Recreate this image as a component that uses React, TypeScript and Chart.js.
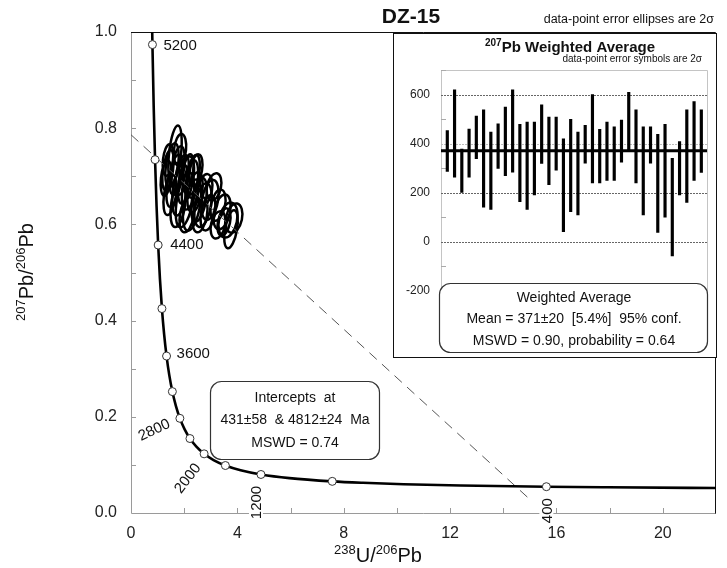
import React, { useEffect, useRef } from 'react';
import { Chart, registerables } from 'chart.js';

Chart.register(...registerables);

const FONT = "Arial, 'Liberation Sans', Helvetica, sans-serif";

// ---- Tera-Wasserburg concordia (precomputed values, age in Ma) ----
const concordiaAges = [5240, 5200, 5000, 4800, 4600, 4400, 4200, 4000, 3800, 3600, 3400, 3200, 3000, 2800, 2600, 2400, 2200, 2000, 1800, 1600, 1400, 1200, 1000, 800, 700, 600, 500, 400, 350, 300, 286];
const concordiaX = [0.7972, 0.8062, 0.8533, 0.9045, 0.9604, 1.0215, 1.0888, 1.163, 1.2453, 1.337, 1.4398, 1.5557, 1.6875, 1.8384, 2.0129, 2.217, 2.4586, 2.749, 3.1046, 3.5497, 4.1227, 4.8875, 5.9593, 7.5684, 8.7182, 10.2518, 12.3993, 15.6212, 17.9228, 20.9918, 22.044];
const concordiaY = [1.0019, 0.9738, 0.8453, 0.7346, 0.6393, 0.5571, 0.4862, 0.425, 0.3721, 0.3263, 0.2867, 0.2524, 0.2227, 0.1968, 0.1744, 0.1548, 0.1378, 0.123, 0.11, 0.0987, 0.0888, 0.0801, 0.0725, 0.0658, 0.0628, 0.0599, 0.0572, 0.0547, 0.0535, 0.0523, 0.052];

const markerAges = [5200, 4800, 4400, 4000, 3600, 3200, 2800, 2400, 2000, 1600, 1200, 800, 400];
const markerX = [0.8062, 0.9045, 1.0215, 1.163, 1.337, 1.5557, 1.8384, 2.217, 2.749, 3.5497, 4.8875, 7.5684, 15.6212];
const markerY = [0.9738, 0.7346, 0.5571, 0.425, 0.3263, 0.2524, 0.1968, 0.1548, 0.123, 0.0987, 0.0801, 0.0658, 0.0547];
const labelledAges = [5200, 4400, 3600, 2800, 2000, 1200, 400];

// ---- discordia (dashed) ----
const discordiaX = [0, 15.05];
const discordiaY = [0.7864, 0.0258];

// ---- data-point error ellipses (2 sigma): centre, semi-axes in data units, tilt in degrees ----
const ellipseX = [1.655, 1.391, 1.542, 1.768, 1.918, 2.068, 2.219, 1.843, 1.58, 1.316, 1.467, 2.031, 2.294, 2.407, 2.557, 2.144, 1.768, 2.332, 2.708, 2.971, 3.121, 2.896, 3.272, 3.422, 3.648, 3.874, 3.761, 3.498, 2.595, 2.106, 1.391, 1.843, 2.444, 2.783, 3.272, 1.692];
const ellipseY = [0.746, 0.713, 0.723, 0.717, 0.703, 0.692, 0.682, 0.672, 0.682, 0.696, 0.661, 0.651, 0.64, 0.667, 0.651, 0.709, 0.64, 0.703, 0.64, 0.651, 0.678, 0.624, 0.64, 0.626, 0.609, 0.613, 0.59, 0.605, 0.62, 0.62, 0.734, 0.755, 0.713, 0.672, 0.599, 0.703];
const ellipseSx = [0.226, 0.188, 0.226, 0.226, 0.226, 0.263, 0.263, 0.263, 0.226, 0.188, 0.226, 0.301, 0.301, 0.263, 0.263, 0.188, 0.263, 0.226, 0.301, 0.301, 0.263, 0.263, 0.263, 0.301, 0.338, 0.301, 0.226, 0.226, 0.263, 0.263, 0.188, 0.226, 0.226, 0.263, 0.263, 0.226];
const ellipseSy = [0.06, 0.042, 0.046, 0.046, 0.042, 0.05, 0.052, 0.054, 0.046, 0.037, 0.042, 0.058, 0.054, 0.042, 0.046, 0.037, 0.046, 0.042, 0.046, 0.042, 0.029, 0.037, 0.033, 0.037, 0.037, 0.031, 0.04, 0.029, 0.037, 0.037, 0.033, 0.033, 0.033, 0.033, 0.029, 0.042];
const ellipseTilt = [6, 8, 8, 8, 10, 10, 10, 8, 8, 6, 8, 10, 10, 10, 10, 8, 8, 10, 10, 10, 12, 10, 12, 12, 12, 12, 10, 12, 10, 10, 6, 6, 10, 10, 12, 8];

const mainXTicks = [0, 4, 8, 12, 16, 20];
const mainYTicks = [0, 0.2, 0.4, 0.6, 0.8, 1.0];
const mainXMinor = [2, 4, 6, 8, 10, 12, 14, 16, 18, 20];
const mainYMinor = [0.1, 0.2, 0.3, 0.4, 0.5, 0.6, 0.7, 0.8, 0.9];

// ---- 207Pb weighted average inset ----
const insetYTicks = [-200, 0, 200, 400, 600];
const insetYMinor = [700, 500, 300, 100, -100];
const barLow = [286, 263, 201, 263, 338, 141, 132, 299, 269, 283, 163, 132, 191, 319, 232, 292, 41, 122, 109, 320, 240, 240, 250, 250, 324, 370, 240, 109, 320, 38, 100, -58, 191, 160, 250, 282];
const barHigh = [453, 619, 378, 459, 512, 538, 447, 481, 549, 619, 478, 488, 488, 558, 508, 508, 419, 499, 447, 474, 600, 458, 488, 468, 496, 609, 538, 468, 468, 438, 478, 340, 408, 538, 571, 538];
const weightedMean = 371;

const interceptLines = ['Intercepts  at', '431±58  & 4812±24  Ma', 'MSWD = 0.74'];
const waLines = ['Weighted Average', 'Mean = 371±20  [5.4%]  95% conf.', 'MSWD = 0.90, probability = 0.64'];

type Part = { t: string; sup?: boolean };

function drawRich(ctx: CanvasRenderingContext2D, parts: Part[], x: number, y: number, size: number, supSize: number, rise: number, bold: boolean, align: 'left' | 'center' | 'right') {
  const b = bold ? 'bold ' : '';
  const widths = parts.map((p) => {
    ctx.font = `${b}${p.sup ? supSize : size}px ${FONT}`;
    return ctx.measureText(p.t).width;
  });
  const total = widths.reduce((a, c) => a + c, 0);
  let cx = align === 'center' ? x - total / 2 : align === 'right' ? x - total : x;
  ctx.textAlign = 'left';
  ctx.textBaseline = 'alphabetic';
  parts.forEach((p, i) => {
    ctx.font = `${b}${p.sup ? supSize : size}px ${FONT}`;
    ctx.fillText(p.t, cx, p.sup ? y - rise : y);
    cx += widths[i];
  });
}

function roundRect(ctx: CanvasRenderingContext2D, x: number, y: number, w: number, h: number, r: number) {
  ctx.beginPath();
  ctx.moveTo(x + r, y);
  ctx.lineTo(x + w - r, y);
  ctx.arcTo(x + w, y, x + w, y + r, r);
  ctx.lineTo(x + w, y + h - r);
  ctx.arcTo(x + w, y + h, x + w - r, y + h, r);
  ctx.lineTo(x + r, y + h);
  ctx.arcTo(x, y + h, x, y + h - r, r);
  ctx.lineTo(x, y + r);
  ctx.arcTo(x, y, x + r, y, r);
  ctx.closePath();
}

const ageLabelLayout: Record<number, { dx: number; dy: number; rot: number; align: 'left' | 'center' }> = {
  5200: { dx: 11, dy: 0, rot: 0, align: 'left' },
  4400: { dx: 12, dy: -1, rot: 0, align: 'left' },
  3600: { dx: 10, dy: -3, rot: 0, align: 'left' },
  2800: { dx: -26, dy: 11, rot: -25, align: 'center' },
  2000: { dx: -17, dy: 24, rot: -52, align: 'center' },
  1200: { dx: -5, dy: 28, rot: -90, align: 'center' },
  400: { dx: 0, dy: 24, rot: -90, align: 'center' },
};

export default function App() {
  const mainRef = useRef<HTMLCanvasElement>(null);
  const insetRef = useRef<HTMLCanvasElement>(null);

  useEffect(() => {
    const mainPlugin = {
      id: 'mainDecor',
      beforeDatasetsDraw(chart: any) {
        const { ctx, chartArea: a, scales } = chart;
        const xs = scales.x, ys = scales.y;
        ctx.save();
        ctx.strokeStyle = '#9a9a9a';
        ctx.lineWidth = 1;
        ctx.beginPath();
        ctx.moveTo(a.left + 0.5, a.top);
        ctx.lineTo(a.left + 0.5, a.bottom + 0.5);
        ctx.lineTo(a.right, a.bottom + 0.5);
        ctx.stroke();
        ctx.beginPath();
        mainXMinor.forEach((v) => {
          const px = Math.round(xs.getPixelForValue(v)) + 0.5;
          ctx.moveTo(px, a.bottom);
          ctx.lineTo(px, a.bottom - 5);
        });
        mainYMinor.forEach((v) => {
          const py = Math.round(ys.getPixelForValue(v)) + 0.5;
          ctx.moveTo(a.left, py);
          ctx.lineTo(a.left + 5, py);
        });
        ctx.stroke();
        ctx.strokeStyle = '#111';
        ctx.beginPath();
        ctx.moveTo(a.left, a.top + 0.5);
        ctx.lineTo(a.right - 0.5, a.top + 0.5);
        ctx.lineTo(a.right - 0.5, a.bottom + 0.5);
        ctx.stroke();
        const kx = Math.abs(xs.getPixelForValue(1) - xs.getPixelForValue(0));
        const ky = Math.abs(ys.getPixelForValue(1) - ys.getPixelForValue(0));
        ctx.strokeStyle = '#000';
        ctx.lineWidth = 2.5;
        ellipseX.forEach((ex, i) => {
          ctx.beginPath();
          ctx.ellipse(xs.getPixelForValue(ex), ys.getPixelForValue(ellipseY[i]), ellipseSx[i] * kx, ellipseSy[i] * ky, (ellipseTilt[i] * Math.PI) / 180, 0, Math.PI * 2);
          ctx.stroke();
        });
        ctx.restore();
      },
      afterDatasetsDraw(chart: any) {
        const { ctx, scales } = chart;
        const xs = scales.x, ys = scales.y;
        ctx.save();
        ctx.font = `15px ${FONT}`;
        labelledAges.forEach((age) => {
          const idx = markerAges.indexOf(age);
          const lay = ageLabelLayout[age];
          const px = xs.getPixelForValue(markerX[idx]) + lay.dx;
          const py = ys.getPixelForValue(markerY[idx]) + lay.dy;
          const txt = String(age);
          const w = ctx.measureText(txt).width;
          ctx.save();
          ctx.translate(px, py);
          ctx.rotate((lay.rot * Math.PI) / 180);
          const x0 = lay.align === 'left' ? 0 : -w / 2;
          ctx.fillStyle = '#fff';
          ctx.fillRect(x0 - 2, -7, w + 4, 14);
          ctx.fillStyle = '#111';
          ctx.textAlign = 'left';
          ctx.textBaseline = 'middle';
          ctx.fillText(txt, x0, 1);
          ctx.restore();
        });
        ctx.lineWidth = 1.2;
        ctx.strokeStyle = '#333';
        ctx.fillStyle = '#fff';
        roundRect(ctx, 210.5, 381.5, 169, 78, 11);
        ctx.fill();
        ctx.stroke();
        ctx.fillStyle = '#111';
        ctx.font = `14px ${FONT}`;
        ctx.textAlign = 'center';
        ctx.textBaseline = 'middle';
        interceptLines.forEach((l, i) => ctx.fillText(l, 295, 398 + i * 22.5));
        ctx.font = `bold 21px ${FONT}`;
        ctx.fillText('DZ-15', 411, 17);
        ctx.font = `12.5px ${FONT}`;
        ctx.textAlign = 'right';
        ctx.fillText('data-point error ellipses are 2σ', 714, 20);
        drawRich(ctx, [{ t: '238', sup: true }, { t: 'U/' }, { t: '206', sup: true }, { t: 'Pb' }], 378, 562, 20, 13, 8, false, 'center');
        ctx.save();
        ctx.translate(33, 272);
        ctx.rotate(-Math.PI / 2);
        drawRich(ctx, [{ t: '207', sup: true }, { t: 'Pb/' }, { t: '206', sup: true }, { t: 'Pb' }], 0, 0, 20, 13, 8, false, 'center');
        ctx.restore();
        ctx.restore();
      },
    };

    const main = new Chart(mainRef.current!, {
      type: 'line',
      data: {
        datasets: [
          {
            data: markerX.map((x, i) => ({ x, y: markerY[i] })),
            showLine: false,
            pointRadius: 4,
            pointBackgroundColor: '#fff',
            pointBorderColor: '#333',
            pointBorderWidth: 1,
          },
          {
            data: concordiaX.map((x, i) => ({ x, y: concordiaY[i] })),
            showLine: true,
            borderColor: '#000',
            borderWidth: 2.6,
            pointRadius: 0,
            cubicInterpolationMode: 'monotone',
          },
          {
            data: discordiaX.map((x, i) => ({ x, y: discordiaY[i] })),
            showLine: true,
            borderColor: '#555',
            borderWidth: 1,
            borderDash: [10, 7],
            pointRadius: 0,
          },
        ],
      } as any,
      options: {
        animation: false,
        responsive: false,
        events: [],
        layout: { padding: { top: 32, right: 11, left: 0, bottom: 0 } },
        plugins: { legend: { display: false }, tooltip: { enabled: false }, title: { display: false } },
        scales: {
          x: {
            type: 'linear',
            min: 0,
            max: 22,
            afterBuildTicks: (s: any) => { s.ticks = mainXTicks.map((v) => ({ value: v })); },
            afterFit: (s: any) => { s.height = 55; },
            grid: { display: false, drawTicks: false },
            border: { display: false },
            ticks: { font: { family: FONT, size: 16 }, color: '#222', padding: 11, maxRotation: 0, callback: (v: any) => String(v) },
          },
          y: {
            type: 'linear',
            min: 0,
            max: 1,
            afterBuildTicks: (s: any) => { s.ticks = mainYTicks.map((v) => ({ value: v })); },
            afterFit: (s: any) => { s.width = 131; },
            grid: { display: false, drawTicks: false },
            border: { display: false },
            ticks: { font: { family: FONT, size: 16 }, color: '#222', padding: 14, callback: (v: any) => Number(v).toFixed(1) },
          },
        },
      } as any,
      plugins: [mainPlugin],
    });

    const insetPlugin = {
      id: 'insetDecor',
      beforeDraw(chart: any) {
        const { ctx, width, height } = chart;
        ctx.save();
        ctx.fillStyle = '#fff';
        ctx.fillRect(0, 0, width, height);
        ctx.restore();
      },
      beforeDatasetsDraw(chart: any) {
        const { ctx, chartArea: a, scales } = chart;
        const ys = scales.y;
        ctx.save();
        ctx.lineWidth = 1;
        ctx.strokeStyle = '#c4c4c4';
        ctx.beginPath();
        ctx.moveTo(a.left + 0.5, a.bottom);
        ctx.lineTo(a.left + 0.5, a.top + 0.5);
        ctx.lineTo(a.right - 0.5, a.top + 0.5);
        ctx.lineTo(a.right - 0.5, a.bottom);
        ctx.stroke();
        insetYTicks.forEach((v) => {
          const py = Math.round(ys.getPixelForValue(v)) + 0.5;
          ctx.strokeStyle = v === 400 ? '#bdbdbd' : '#666';
          ctx.setLineDash([2, 1]);
          ctx.beginPath();
          ctx.moveTo(a.left, py);
          ctx.lineTo(a.right, py);
          ctx.stroke();
        });
        ctx.setLineDash([]);
        ctx.strokeStyle = '#aaa';
        ctx.beginPath();
        insetYMinor.forEach((v) => {
          const py = Math.round(ys.getPixelForValue(v)) + 0.5;
          ctx.moveTo(a.left, py);
          ctx.lineTo(a.left + 5, py);
        });
        ctx.stroke();
        ctx.restore();
      },
      afterDatasetsDraw(chart: any) {
        const { ctx, chartArea: a, scales, width, height } = chart;
        const ys = scales.y;
        ctx.save();
        const my = ys.getPixelForValue(weightedMean);
        ctx.strokeStyle = '#000';
        ctx.lineWidth = 3;
        ctx.beginPath();
        ctx.moveTo(a.left, my);
        ctx.lineTo(a.right - 1, my);
        ctx.stroke();
        ctx.lineWidth = 1.2;
        ctx.strokeStyle = '#333';
        ctx.fillStyle = '#fff';
        roundRect(ctx, 46.5, 250.5, 268, 69, 11);
        ctx.fill();
        ctx.stroke();
        ctx.fillStyle = '#111';
        ctx.font = `14px ${FONT}`;
        ctx.textAlign = 'center';
        ctx.textBaseline = 'middle';
        waLines.forEach((l, i) => ctx.fillText(l, 181, 265 + i * 21.5));
        drawRich(ctx, [{ t: '207', sup: true }, { t: 'Pb Weighted Average' }], 177, 19, 15, 10, 6, true, 'center');
        ctx.font = `10px ${FONT}`;
        ctx.textAlign = 'right';
        ctx.textBaseline = 'alphabetic';
        ctx.fillText('data-point error symbols are 2σ', 309, 29);
        ctx.strokeStyle = '#111';
        ctx.lineWidth = 1;
        ctx.strokeRect(0.5, 0.5, width - 1, height - 1);
        ctx.restore();
      },
    };

    const inset = new Chart(insetRef.current!, {
      type: 'bar',
      data: {
        datasets: [
          {
            data: barLow.map((lo, i) => ({ x: i + 1, y: [lo, barHigh[i]] })),
            backgroundColor: '#000',
            borderWidth: 0,
            barThickness: 2.5,
          },
        ],
      } as any,
      options: {
        animation: false,
        responsive: false,
        events: [],
        layout: { padding: { top: 37, right: 9, left: 0, bottom: 2 } },
        plugins: { legend: { display: false }, tooltip: { enabled: false }, title: { display: false } },
        scales: {
          x: { type: 'linear', min: 0.132, max: 36.92, display: false, offset: false },
          y: {
            type: 'linear',
            min: -400,
            max: 700,
            afterBuildTicks: (s: any) => { s.ticks = insetYTicks.map((v) => ({ value: v })); },
            afterFit: (s: any) => { s.width = 48; },
            grid: { display: false, drawTicks: false },
            border: { display: false },
            ticks: { font: { family: FONT, size: 12 }, color: '#222', padding: 11, callback: (v: any) => String(v) },
          },
        },
      } as any,
      plugins: [insetPlugin],
    });

    return () => {
      main.destroy();
      inset.destroy();
    };
  }, []);

  return (
    <div style={{ position: 'absolute', left: 0, top: 0, width: 727, height: 568, background: '#fff' }}>
      <canvas ref={mainRef} width={727} height={568} style={{ position: 'absolute', left: 0, top: 0, width: 727, height: 568 }} />
      <canvas ref={insetRef} width={324} height={325} style={{ position: 'absolute', left: 393, top: 33, width: 324, height: 325 }} />
    </div>
  );
}
